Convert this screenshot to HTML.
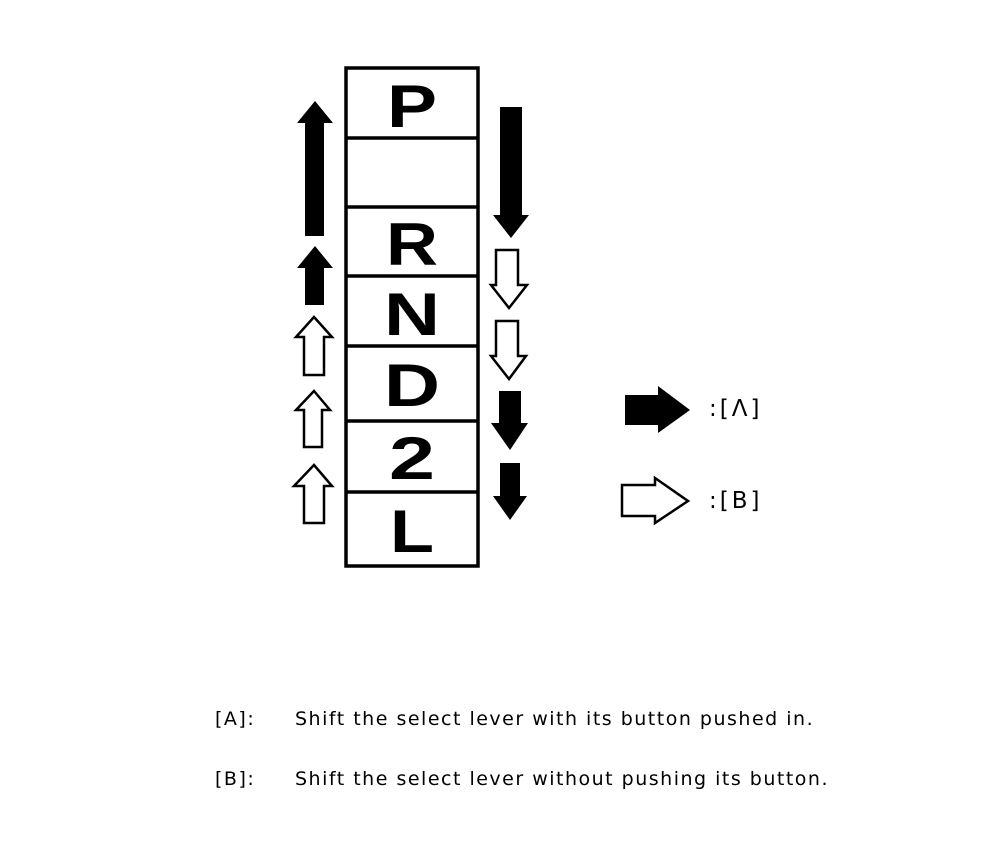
<!DOCTYPE html>
<html><head><style>
body{margin:0;background:#fff;}
.w{position:relative;width:992px;height:846px;font-family:"DejaVu Sans","Liberation Sans",sans-serif;}
.t{position:absolute;font-size:19px;color:#000;white-space:pre;letter-spacing:1.5px;}
</style></head><body><div class="w">
<svg width="992" height="846" style="position:absolute;left:0;top:0">
<g stroke="#000" stroke-width="3.5" fill="none">
<rect x="346" y="68" width="132" height="498"/>
<line x1="346" y1="138" x2="478" y2="138"/>
<line x1="346" y1="207" x2="478" y2="207"/>
<line x1="346" y1="276" x2="478" y2="276"/>
<line x1="346" y1="346" x2="478" y2="346"/>
<line x1="346" y1="421" x2="478" y2="421"/>
<line x1="346" y1="492" x2="478" y2="492"/>
</g>
<g font-family="Liberation Sans, sans-serif" font-weight="bold" font-size="60" text-anchor="middle">
<text x="412" y="127" textLength="50" lengthAdjust="spacingAndGlyphs">P</text>
<text x="412" y="265" textLength="52" lengthAdjust="spacingAndGlyphs">R</text>
<text x="412" y="335" textLength="56" lengthAdjust="spacingAndGlyphs">N</text>
<text x="412" y="406" textLength="56" lengthAdjust="spacingAndGlyphs">D</text>
<text x="412" y="479" textLength="46" lengthAdjust="spacingAndGlyphs">2</text>
<text x="412" y="552" textLength="44" lengthAdjust="spacingAndGlyphs">L</text>
</g>
<polygon points="315,101 333,123 324,123 324,236 305,236 305,123 297,123" fill="#000"/>
<polygon points="315,246 333,268 324,268 324,305 305,305 305,268 297,268" fill="#000"/>
<g fill="#fff" stroke="#000" stroke-width="2.5">
<polygon points="314,317 332,337 324,337 324,375 304,375 304,337 296,337"/>
<polygon points="314,391 330,410 322,410 322,447 304,447 304,410 296,410"/>
<polygon points="314,465 332,486 324,486 324,523 304,523 304,486 294,486"/>
<polygon points="496,250 518,250 518,285 527,285 509,308 491,285 496,285"/>
<polygon points="496,321 518,321 518,356 526,356 509,379 491,356 496,356"/>
<polygon points="622,485 655,485 655,478 688,501 655,523 655,516 622,516"/>
</g>
<polygon points="500,107 522,107 522,215 529,215 511,238 493,215 500,215" fill="#000"/>
<polygon points="499,391 521,391 521,423 528,423 510,450 491,423 499,423" fill="#000"/>
<polygon points="500,463 520,463 520,496 527,496 510,520 493,496 500,496" fill="#000"/>
<polygon points="625,395 658,395 658,386 690,410 658,433 658,425 625,425" fill="#000"/>
</svg>
<div class="t" style="left:709px;top:396px;font-size:23px;letter-spacing:3px">:[Λ]</div>
<div class="t" style="left:709px;top:488px;font-size:23px;letter-spacing:3px">:[B]</div>
<div class="t" style="left:215px;top:708px">[A]:</div>
<div class="t" style="left:295px;top:708px">Shift the select lever with its button pushed in.</div>
<div class="t" style="left:215px;top:768px">[B]:</div>
<div class="t" style="left:295px;top:768px">Shift the select lever without pushing its button.</div>
</div></body></html>
